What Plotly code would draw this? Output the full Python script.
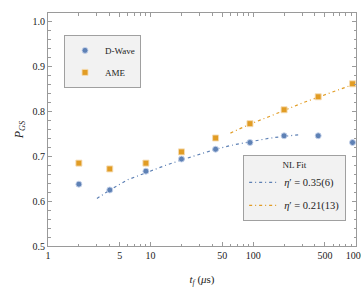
import plotly.graph_objects as go

# Data
t_f = [2, 4, 9, 20, 43, 93, 200, 430, 930]
dwave = [0.638, 0.625, 0.667, 0.694, 0.716, 0.731, 0.746, 0.746, 0.731]
ame = [0.685, 0.672, 0.685, 0.710, 0.741, 0.773, 0.804, 0.833, 0.862]

fit_dw_t = [3, 4, 6, 9, 14, 20, 30, 43, 65, 93, 140, 200, 275]
fit_dw_p = [0.606, 0.625, 0.648, 0.664, 0.680, 0.692, 0.705, 0.716, 0.726, 0.733, 0.740, 0.745, 0.748]
fit_ame_t = [60, 93, 140, 200, 300, 430, 650, 930]
fit_ame_p = [0.752, 0.772, 0.788, 0.803, 0.819, 0.832, 0.847, 0.860]

x_tickvals = [1, 5, 10, 50, 100, 500, 1000]
x_ticktext = ["1", "5", "10", "50", "100", "500", "1000"]
y_tickvals = [0.5, 0.6, 0.7, 0.8, 0.9, 1.0]
y_ticktext = ["0.5", "0.6", "0.7", "0.8", "0.9", "1.0"]

BLUE = "#5E81B5"
ORANGE = "#E19C24"
FONT = "Liberation Serif, DejaVu Serif, serif"

fig = go.Figure()

fig.add_trace(go.Scatter(
    x=fit_dw_t, y=fit_dw_p, mode="lines",
    line=dict(color=BLUE, width=1.2, dash="3px,3px,1px,3px"),
    name="<i>η</i>′ = 0.35(6)", legend="legend2", legendgroup="f1"))
fig.add_trace(go.Scatter(
    x=fit_ame_t, y=fit_ame_p, mode="lines",
    line=dict(color=ORANGE, width=1.2, dash="3px,3px,1px,3px"),
    name="<i>η</i>′ = 0.21(13)", legend="legend2", legendgroup="f2"))

fig.add_trace(go.Scatter(
    x=t_f, y=dwave, mode="markers",
    marker=dict(symbol="circle", size=6, color=BLUE,
                line=dict(color="rgba(200,212,235,0.9)", width=1)),
    name="D-Wave", legend="legend", legendgroup="d"))
fig.add_trace(go.Scatter(
    x=t_f, y=ame, mode="markers",
    marker=dict(symbol="square", size=6, color=ORANGE,
                line=dict(color="rgba(245,220,180,0.9)", width=1)),
    name="AME", legend="legend", legendgroup="a"))

minor_x = []
for d in [1, 10, 100]:
    for k in range(2, 10):
        if k != 5:
            minor_x.append(k * d)

axis_common = dict(
    showline=True, linecolor="#9a9a9a", linewidth=1, mirror="allticks",
    ticks="inside", ticklen=4, tickcolor="#9a9a9a", tickwidth=1,
    showgrid=False, zeroline=False, automargin=False,
    ticklabeloverflow="allow",
    tickfont=dict(family=FONT, size=10, color="#222"),
)

fig.update_layout(
    width=361, height=287,
    margin=dict(l=48, r=5, t=13, b=41, autoexpand=False),
    paper_bgcolor="white", plot_bgcolor="white",
    font=dict(family=FONT, size=10, color="#222"),
    xaxis=dict(
        type="log", range=[0, 3.002],
        tickvals=x_tickvals, ticktext=x_ticktext,
        minor=dict(tickvals=minor_x, ticks="inside", ticklen=2.5,
                   tickcolor="#9a9a9a", tickwidth=1),
        title=dict(text="<i>t<sub>f</sub></i> (<i>μ</i>s)",
                   font=dict(family=FONT, size=11), standoff=18),
        **axis_common),
    yaxis=dict(
        range=[0.5, 1.02],
        tickvals=y_tickvals, ticktext=y_ticktext,
        minor=dict(dtick=0.02, ticks="inside", ticklen=2.5,
                   tickcolor="#9a9a9a", tickwidth=1),
        title=dict(text="<i>P</i><sub><i>GS</i></sub>",
                   font=dict(family=FONT, size=12), standoff=6),
        **axis_common),
    legend=dict(
        x=0.052, y=0.906, xanchor="left", yanchor="top",
        bgcolor="#f2f2f2", bordercolor="#a0a0a0", borderwidth=1,
        font=dict(family=FONT, size=9), itemwidth=30,
        traceorder="grouped", tracegroupgap=3),
    legend2=dict(
        x=0.968, y=0.39, xanchor="right", yanchor="top",
        bgcolor="#f2f2f2", bordercolor="#a0a0a0", borderwidth=1,
        font=dict(family=FONT, size=10.5), itemwidth=30,
        traceorder="grouped", tracegroupgap=4,
        title=dict(text="NL Fit", side="top center",
                   font=dict(family=FONT, size=9))),
)

fig.write_html("out.html", config={"displayModeBar": False},
               post_script="document.body.style.margin='0';")
